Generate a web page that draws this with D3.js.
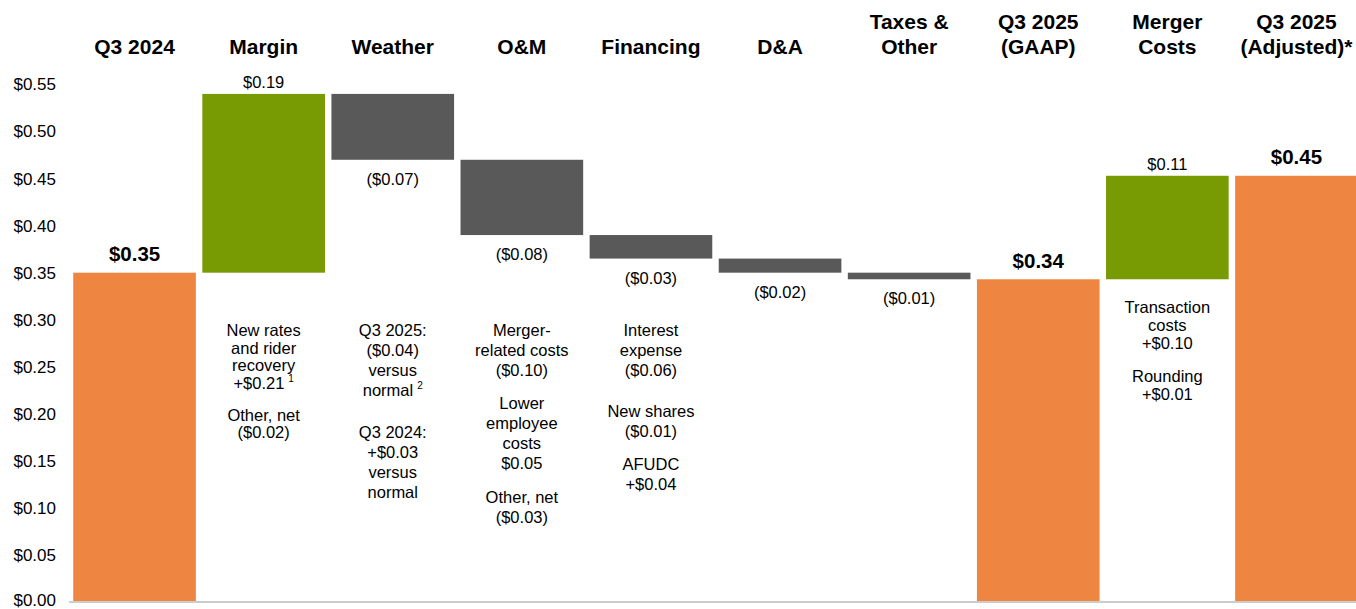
<!DOCTYPE html>
<html lang="en">
  <head>
    <meta charset="utf-8">
    <title>EPS bridge Q3 2024 to Q3 2025</title>
    <script src="https://cdnjs.cloudflare.com/ajax/libs/d3/7.8.5/d3.min.js" charset="utf-8"></script>
    <style type="text/css">
    body { margin: 0; background: #fff; }
    svg text { font-family: "Liberation Sans", Arial, sans-serif; fill: #000; }
    </style>
  </head>
  <body>
    <script type="text/javascript">
    //Width and height
    var w = 1356;
    var h = 609;

    // chart data
    var categories = ["Q3 2024", "Margin", "Weather", "O&M", "Financing", "D&A",
      "Taxes & Other", "Q3 2025 (GAAP)", "Merger Costs", "Q3 2025 (Adjusted)*"];
    var headers = [["Q3 2024"], ["Margin"], ["Weather"], ["O&M"], ["Financing"], ["D&A"],
      ["Taxes &", "Other"], ["Q3 2025", "(GAAP)"], ["Merger", "Costs"], ["Q3 2025", "(Adjusted)*"]];
    var kinds = ["total", "up", "down", "down", "down", "down", "down", "total", "up", "total"];
    var values = [0.35, 0.19, -0.07, -0.08, -0.025, -0.015, -0.007, 0.343, 0.11, 0.453];
    var valueLabels = ["$0.35", "$0.19", "($0.07)", "($0.08)", "($0.03)", "($0.02)", "($0.01)",
      "$0.34", "$0.11", "$0.45"];
    var yTicks = [0, 0.05, 0.10, 0.15, 0.20, 0.25, 0.30, 0.35, 0.40, 0.45, 0.50, 0.55];

    // notes under the bars, "^" marks a footnote superscript
    var notes = {
      "Margin": [["New rates", "and rider", "recovery", "+$0.21^1"], ["Other, net", "($0.02)"]],
      "Weather": [["Q3 2025:", "($0.04)", "versus", "normal^2"], ["Q3 2024:", "+$0.03", "versus", "normal"]],
      "O&M": [["Merger-", "related costs", "($0.10)"], ["Lower", "employee", "costs", "$0.05"], ["Other, net", "($0.03)"]],
      "Financing": [["Interest", "expense", "($0.06)"], ["New shares", "($0.01)"], ["AFUDC", "+$0.04"]],
      "Merger Costs": [["Transaction", "costs", "+$0.10"], ["Rounding", "+$0.01"]]
    };
    // top y, line height, paragraph gaps
    var noteLayout = {
      "Margin": [330, 17.5, [32]],
      "Weather": [330, 20, [42]],
      "O&M": [330, 20, [33, 34]],
      "Financing": [330, 20, [41, 33]],
      "Merger Costs": [307, 18, [33]]
    };

    var colors = { total: "#ee8541", up: "#789a03", down: "#595959" };

    // running totals for the waterfall
    var bars = [];
    var run = 0;
    for (var i = 0; i < categories.length; i++) {
      var d = { cat: categories[i], kind: kinds[i], label: valueLabels[i], head: headers[i] };
      if (kinds[i] == "total") {
        d.y0 = 0; d.y1 = values[i]; run = values[i];
      } else {
        d.y0 = run; d.y1 = run + values[i]; run = d.y1;
      }
      bars.push(d);
    }

    var x = d3.scaleBand()
      .domain(categories)
      .range([70, 1361])
      .paddingInner(0.05)
      .paddingOuter(0.025);

    var y = d3.scaleLinear()
      .domain([0, 0.55])
      .range([602, 84.5]);

    //Create SVG element
    var svg = d3.select("body")
      .append("svg")
      .attr("width", w)
      .attr("height", h);

    // y axis labels, no line
    var yAxis = d3.axisLeft(y)
      .tickValues(yTicks)
      .tickSize(0)
      .tickPadding(0)
      .tickFormat(d3.format("$.2f"));

    var gy = svg.append("g")
      .attr("transform", "translate(56,0)")
      .call(yAxis);
    gy.select(".domain").remove();
    gy.selectAll("text")
      .attr("font-size", "17px")
      .attr("font-family", "Liberation Sans, Arial, sans-serif")
      .attr("fill", "#000")
      .attr("dy", function(d) { return d == 0 ? "0.2em" : "0.32em"; });

    // bars
    svg.selectAll("rect.bar")
      .data(bars)
      .enter()
      .append("rect")
      .attr("class", "bar")
      .attr("x", function(d) { return x(d.cat); })
      .attr("width", x.bandwidth())
      .attr("y", function(d) { return y(Math.max(d.y0, d.y1)); })
      .attr("height", function(d) { return Math.abs(y(d.y0) - y(d.y1)); })
      .attr("fill", function(d) { return colors[d.kind]; });

    // baseline
    svg.append("line")
      .attr("x1", 69)
      .attr("x2", w)
      .attr("y1", y(0))
      .attr("y2", y(0))
      .attr("stroke", "#cccccc")
      .attr("stroke-width", 2);

    // value labels
    svg.selectAll("text.val")
      .data(bars)
      .enter()
      .append("text")
      .attr("class", "val")
      .attr("text-anchor", "middle")
      .attr("dominant-baseline", "central")
      .attr("x", function(d) { return x(d.cat) + x.bandwidth() / 2; })
      .attr("y", function(d) {
        if (d.kind == "total") return y(d.y1) - 19;
        if (d.kind == "up") return y(d.y1) - 12;
        return y(d.y1) + 19;
      })
      .attr("font-size", function(d) { return d.kind == "total" ? "20.5px" : "16.5px"; })
      .attr("font-weight", function(d) { return d.kind == "total" ? "bold" : "normal"; })
      .text(function(d) { return d.label; });

    // category headers
    var head = svg.selectAll("text.head")
      .data(bars)
      .enter()
      .append("text")
      .attr("class", "head")
      .attr("text-anchor", "middle")
      .attr("font-size", "21px")
      .attr("font-weight", "bold")
      .attr("x", function(d) { return x(d.cat) + x.bandwidth() / 2; })
      .attr("y", function(d) { return d.head.length > 1 ? 29 : 54; });
    head.selectAll("tspan")
      .data(function(d) { return d.head.map(function(t) { return { t: t, cx: x(d.cat) + x.bandwidth() / 2 }; }); })
      .enter()
      .append("tspan")
      .attr("x", function(d) { return d.cx; })
      .attr("dy", function(d, i) { return i == 0 ? 0 : 25; })
      .text(function(d) { return d.t; });

    // notes under bars
    Object.keys(notes).forEach(function(cat) {
      var lay = noteLayout[cat];
      var cx = x(cat) + x.bandwidth() / 2;
      var yy = lay[0];
      notes[cat].forEach(function(para, p) {
        if (p > 0) yy += lay[2][p - 1] - lay[1];
        para.forEach(function(line) {
          var parts = line.split("^");
          var t = svg.append("text")
            .attr("text-anchor", "middle")
            .attr("dominant-baseline", "central")
            .attr("x", cx)
            .attr("y", yy)
            .attr("font-size", "16.5px");
          t.append("tspan").text(parts[0]);
          if (parts.length > 1) {
            t.append("tspan")
              .attr("font-size", "10px")
              .attr("dx", 4)
              .attr("dy", -5)
              .text(parts[1]);
          }
          yy += lay[1];
        });
      });
    });
    </script>
  </body>
</html>
